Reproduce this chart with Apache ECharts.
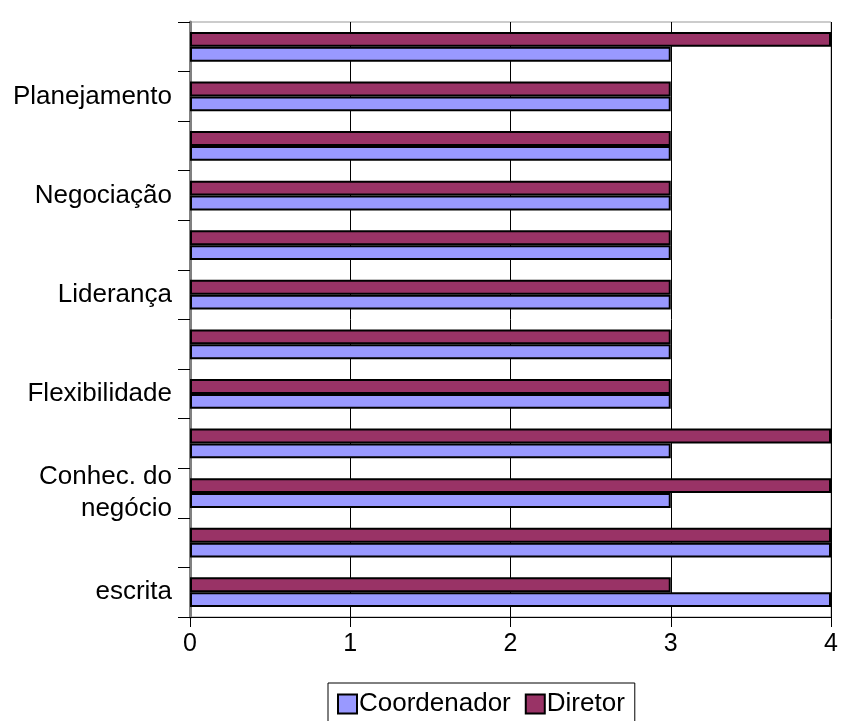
<!DOCTYPE html>
<html>
<head>
<meta charset="utf-8">
<script src="https://cdn.jsdelivr.net/npm/echarts@6/dist/echarts.min.js"></script>
<style>html,body{margin:0;padding:0;background:#fff}#c{width:842px;height:721px}</style>
</head>
<body>
<div id="c"></div>
<script>
const categories = ['escrita', '', 'Conhec. do\nnegócio', '', 'Flexibilidade', '', 'Liderança', '', 'Negociação', '', 'Planejamento', ''];
const coordenador = [4, 4, 3, 3, 3, 3, 3, 3, 3, 3, 3, 3];
const diretor = [3, 4, 4, 4, 3, 3, 3, 3, 3, 3, 3, 4];
const xTicks = [0, 1, 2, 3, 4];

const chart = echarts.init(document.getElementById('c'));
const font = 'Liberation Sans, Arial, sans-serif';
chart.setOption({
  animation: false,
  textStyle: { fontFamily: font },
  grid: { left: 190, right: 11, top: 22, bottom: 104, show: true, borderColor: '#999', borderWidth: 1, backgroundColor: '#fff' },
  xAxis: {
    type: 'value', min: xTicks[0], max: xTicks[xTicks.length - 1], interval: 1,
    axisLine: { show: true, lineStyle: { color: '#000', width: 1 } },
    axisTick: { show: true, length: 10, lineStyle: { color: '#000' } },
    axisLabel: { fontSize: 25, color: '#000', margin: 15, fontFamily: font },
    splitLine: { show: true, lineStyle: { color: '#000', width: 1 } }
  },
  yAxis: {
    type: 'category', data: categories,
    axisLine: { show: true, lineStyle: { color: '#808080', width: 3 } },
    axisTick: { show: true, length: 12, inside: false, alignWithLabel: false, interval: 0, lineStyle: { color: '#000' } },
    axisLabel: { fontSize: 26, color: '#000', margin: 18, interval: 0, lineHeight: 32, align: 'right', fontFamily: font }
  },
  legend: {
    bottom: -8, left: 328,
    data: ['Coordenador', 'Diretor'],
    borderColor: '#000', borderWidth: 1, padding: [8, 10, 12, 9],
    itemWidth: 19, itemHeight: 19, itemGap: 14,
    icon: 'rect',
    textStyle: { fontSize: 26, color: '#000', fontFamily: font, padding: [0, 0, 0, -3] }
  },
  series: [
    { name: 'Diretor', type: 'bar', data: diretor, barGap: '0%', barCategoryGap: '40%',
      itemStyle: { color: '#993366', borderColor: '#000', borderWidth: 2 } },
    { name: 'Coordenador', type: 'bar', data: coordenador, barGap: '0%', barCategoryGap: '40%',
      itemStyle: { color: '#9999FF', borderColor: '#000', borderWidth: 2 } }
  ]
});
</script>
</body>
</html>
